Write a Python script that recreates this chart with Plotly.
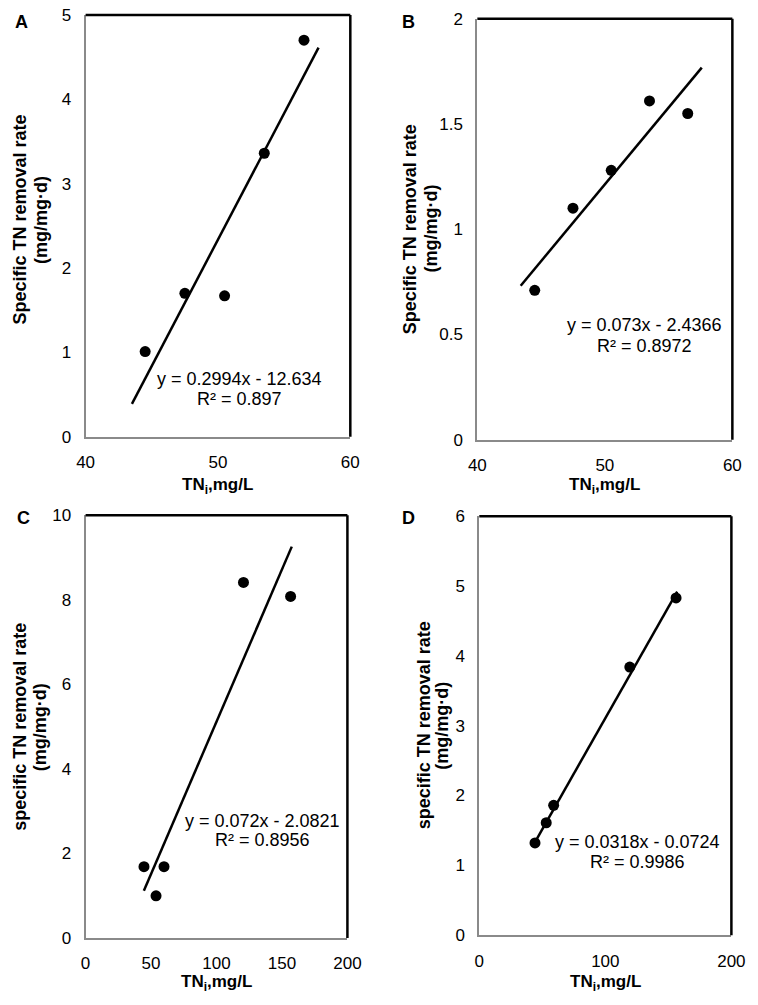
import plotly.graph_objects as go

W, H = 758, 1005

# panel A
a_x = [44.5, 47.5, 50.5, 53.5, 56.5]
a_y = [1.01, 1.70, 1.67, 3.36, 4.70]
# panel B
b_x = [44.5, 47.5, 50.5, 53.5, 56.5]
b_y = [0.71, 1.10, 1.28, 1.61, 1.55]
# panel C
c_x = [44.6, 53.8, 59.9, 120.6, 156.6]
c_y = [1.69, 1.00, 1.69, 8.41, 8.08]
# panel D
d_x = [44.2, 53.1, 59.0, 119.4, 156.1]
d_y = [1.32, 1.61, 1.86, 3.84, 4.83]

# linear fits as printed on the chart
slopes = [0.2994, 0.073, 0.072, 0.0318]
intercepts = [-12.634, -2.4366, -2.0821, -0.0724]
r2 = ['0.897', '0.8972', '0.8956', '0.9986']
fit_ranges = [[43.5, 57.6], [43.4, 57.6], [44.5, 157.5], [44.0, 157.0]]

letters = ['A', 'B', 'C', 'D']
y_titles = ['Specific TN removal rate', 'Specific TN removal rate',
            'specific TN removal rate', 'specific TN removal rate']
y_units = '(mg/mg·d)'

font = 'Arial, Liberation Sans, sans-serif'

# pixel boxes of the four plot areas (left, right, top, bottom)
boxes = [(79, 352, 6, 436), (483, 746, 10, 439), (79, 349, 516, 947), (485, 745, 517, 944)]
x_ranges = [[40, 60], [40, 60], [0, 200], [0, 200]]
x_dticks = [10, 10, 50, 100]
y_ranges = [[0, 5], [0, 2], [0, 10], [0, 6]]
y_dticks = [1, 0.5, 2, 1]
eq_pos = [(51.6, 0.68, 0.45), (53.1, 0.545, 0.447), (135, 2.78, 2.32), (125.8, 1.335, 1.054)]
ytitle_x = [(11, 33), (413, 435), (11, 32), (428, 447)]
ytitle_y = [215, 224, 732, 730]
xtitle_top = [473, 473, 980, 980]
letter_pos = [(13, 13), (412, 13), (15, 519), (412, 519)]

data = [(a_x, a_y), (b_x, b_y), (c_x, c_y), (d_x, d_y)]

fig = go.Figure()
layout = dict(width=W, height=H, margin=dict(l=0, r=0, t=0, b=0),
              paper_bgcolor='white', plot_bgcolor='white', showlegend=False,
              font=dict(family=font, size=18, color='black'))
annotations = []
shapes = []


def paper(px, py):
    return px / W, 1 - py / H


for i in range(4):
    n = '' if i == 0 else str(i + 1)
    xs, ys = data[i]
    fig.add_trace(go.Scatter(x=xs, y=ys, mode='markers', xaxis='x' + n, yaxis='y' + n,
                             marker=dict(color='black', size=11)))
    fx = fit_ranges[i]
    fy = [slopes[i] * v + intercepts[i] for v in fx]
    fig.add_trace(go.Scatter(x=fx, y=fy, mode='lines', xaxis='x' + n, yaxis='y' + n,
                             line=dict(color='black', width=2.5)))

    l, r, t, b = boxes[i]
    axis_common = dict(showgrid=False, zeroline=False, showline=True, linecolor='#8a8a8a',
                       linewidth=2, ticks='outside', ticklen=9, tickcolor='rgba(0,0,0,0)',
                       tickfont=dict(size=17, family=font, color='black'), fixedrange=True)
    layout['xaxis' + n] = dict(axis_common, domain=[l / W, r / W], range=x_ranges[i],
                               dtick=x_dticks[i], tick0=0, anchor='y' + n)
    layout['yaxis' + n] = dict(axis_common, domain=[1 - b / H, 1 - t / H], range=y_ranges[i],
                               dtick=y_dticks[i], tick0=0, anchor='x' + n)

    # black frame on top and right
    shapes.append(dict(type='line', xref='x' + n + ' domain', yref='y' + n + ' domain',
                       x0=0, x1=1, y0=1, y1=1, line=dict(color='black', width=2.5)))
    shapes.append(dict(type='line', xref='x' + n + ' domain', yref='y' + n + ' domain',
                       x0=1, x1=1, y0=0, y1=1, line=dict(color='black', width=2.5)))

    ex, ey1, ey2 = eq_pos[i]
    sign = '-' if intercepts[i] < 0 else '+'
    eq = 'y = %gx %s %g' % (slopes[i], sign, abs(intercepts[i]))
    annotations.append(dict(x=ex, y=ey1, xref='x' + n, yref='y' + n, text=eq, showarrow=False,
                            font=dict(size=18, family=font)))
    annotations.append(dict(x=ex, y=ey2, xref='x' + n, yref='y' + n, text='R² = ' + r2[i],
                            showarrow=False, font=dict(size=18, family=font)))

    # axis titles
    for txt, tx in zip([y_titles[i], y_units], ytitle_x[i]):
        px, py = paper(tx, ytitle_y[i])
        annotations.append(dict(x=px, y=py, xref='paper', yref='paper', text='<b>' + txt + '</b>',
                                textangle=-90, showarrow=False, xanchor='center', yanchor='middle',
                                font=dict(size=18, family=font)))
    px, py = paper((l + r) / 2, xtitle_top[i])
    annotations.append(dict(x=px, y=py, xref='paper', yref='paper',
                            text='<b>TN<sub>i</sub>,mg/L</b>', showarrow=False,
                            xanchor='center', yanchor='top', font=dict(size=17, family=font)))
    px, py = paper(*letter_pos[i])
    annotations.append(dict(x=px, y=py, xref='paper', yref='paper',
                            text='<b>' + letters[i] + '</b>', showarrow=False,
                            xanchor='center', yanchor='middle', font=dict(size=18, family=font)))

layout['annotations'] = annotations
layout['shapes'] = shapes
fig.update_layout(**layout)
fig.write_html('out.html', config={'displayModeBar': False},
               post_script="document.body.style.margin='0';")
